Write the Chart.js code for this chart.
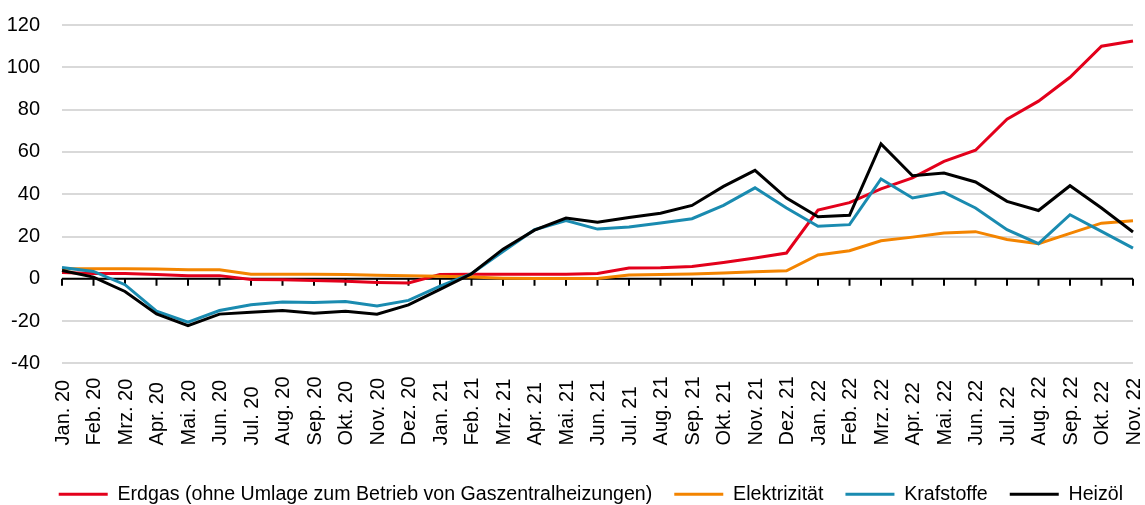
<!DOCTYPE html>
<html lang="de">
<head>
<meta charset="utf-8">
<title>Energiepreise – Veränderung gegenüber Vorjahresmonat</title>
<script src="https://cdn.jsdelivr.net/npm/chart.js@4.4.0/dist/chart.umd.min.js"></script>
<style>
    html, body { margin: 0; padding: 0; background: #fff; }
</style>
</head>
<body>
<canvas id="grafik" width="1145" height="505"></canvas>
<script>
// ==================== DATEN ====================
// Monate Jan. 20 bis Nov. 22
const monate = [
    'Jan. 20', 'Feb. 20', 'Mrz. 20', 'Apr. 20', 'Mai. 20', 'Jun. 20',
    'Jul. 20', 'Aug. 20', 'Sep. 20', 'Okt. 20', 'Nov. 20', 'Dez. 20',
    'Jan. 21', 'Feb. 21', 'Mrz. 21', 'Apr. 21', 'Mai. 21', 'Jun. 21',
    'Jul. 21', 'Aug. 21', 'Sep. 21', 'Okt. 21', 'Nov. 21', 'Dez. 21',
    'Jan. 22', 'Feb. 22', 'Mrz. 22', 'Apr. 22', 'Mai. 22', 'Jun. 22',
    'Jul. 22', 'Aug. 22', 'Sep. 22', 'Okt. 22', 'Nov. 22'
];

// Werte in %
const erdgas = [
    3, 2.5, 2.5, 2, 1.5, 1.5, -0.3, -0.5, -0.8, -1.2, -1.7, -2,
    2, 2.2, 2.2, 2.2, 2.2, 2.5, 5.1, 5.2, 5.8, 7.7, 9.8, 12.2,
    32.5, 36, 42.5, 47.7, 55.5, 60.8, 75.5, 84, 95.3, 110, 112.4
];
const elektrizitaet = [
    4.7, 4.7, 4.7, 4.6, 4.3, 4.3, 2.2, 2.2, 2.1, 2, 1.7, 1.4,
    1.2, 0.8, 0.3, 0.1, 0.1, 0.2, 1.8, 2, 2.3, 2.7, 3.3, 3.8,
    11.3, 13.3, 18, 19.7, 21.6, 22.3, 18.6, 16.6, 21.5, 26.3, 27.4
];
const kraftstoffe = [
    5.3, 3.5, -2.8, -15.3, -20.5, -15, -12.3, -11, -11.2, -10.7, -12.8, -10.2,
    -3.5, 2.4, 12.9, 23.2, 27.5, 23.5, 24.5, 26.4, 28.4, 34.7, 43, 33.5,
    24.8, 25.6, 47.2, 38.2, 40.9, 33.5, 23.2, 16.6, 30.3, 22.4, 14.5
];
const heizoel = [
    3.9, 0.8, -6, -16.6, -22.1, -16.7, -15.8, -15, -16.3, -15.3, -16.7, -12.3,
    -5, 2.4, 14, 23, 28.7, 26.7, 29, 31, 34.7, 43.7, 51.3, 38.2,
    29.3, 30, 63.8, 48.7, 50, 45.8, 36.6, 32.3, 44, 33.5, 22.1
];

// Achse
const yMin = -40;
const yMax = 120;
const ySchritt = 20;

// Farben
const farben = {
    erdgas: '#e3001b',
    elektrizitaet: '#f38400',
    kraftstoffe: '#1a8bb0',
    heizoel: '#000000'
};

Chart.defaults.font.family = "'Liberation Sans', Arial, sans-serif";
Chart.defaults.color = '#000';

// Nulllinie mit Teilstrichen (liegt unter den Linien)
const nullLinie = {
    id: 'nullLinie',
    beforeDatasetsDraw(chart) {
        const { ctx, chartArea, scales } = chart;
        const y0 = scales.y.getPixelForValue(0);
        ctx.save();
        ctx.strokeStyle = '#000';
        ctx.lineWidth = 2;
        ctx.beginPath();
        ctx.moveTo(chartArea.left, y0);
        ctx.lineTo(chartArea.right, y0);
        scales.x.ticks.forEach((t, i) => {
            const x = scales.x.getPixelForTick(i);
            ctx.moveTo(x, y0);
            ctx.lineTo(x, y0 + 7);
        });
        ctx.stroke();
        ctx.restore();
    }
};

// Monatsbeschriftung senkrecht, unten bündig
const monatsText = {
    id: 'monatsText',
    afterDraw(chart) {
        const { ctx, scales } = chart;
        const xs = scales.x;
        ctx.save();
        ctx.font = "20px 'Liberation Sans', Arial, sans-serif";
        ctx.fillStyle = '#000';
        ctx.textAlign = 'left';
        ctx.textBaseline = 'middle';
        xs.ticks.forEach((t, i) => {
            ctx.save();
            ctx.translate(xs.getPixelForTick(i), xs.top + 82);
            ctx.rotate(-Math.PI / 2);
            ctx.fillText(monate[i], 0, 1);
            ctx.restore();
        });
        ctx.restore();
    }
};

function linie(label, werte, farbe, reihenfolge) {
    return {
        label: label,
        data: werte,
        borderColor: farbe,
        backgroundColor: farbe,
        borderWidth: 3,
        pointRadius: 0,
        tension: 0,
        order: reihenfolge
    };
}

new Chart(document.getElementById('grafik'), {
    type: 'line',
    data: {
        labels: monate,
        datasets: [
            linie('Erdgas (ohne Umlage zum Betrieb von Gaszentralheizungen)', erdgas, farben.erdgas, 3),
            linie('Elektrizität', elektrizitaet, farben.elektrizitaet, 2),
            linie('Krafstoffe', kraftstoffe, farben.kraftstoffe, 1),
            linie('Heizöl', heizoel, farben.heizoel, 0)
        ]
    },
    options: {
        responsive: false,
        animation: false,
        layout: {
            padding: { top: 25, left: 0, right: 0, bottom: -9 }
        },
        scales: {
            x: {
                grid: { display: false },
                border: { display: false },
                ticks: { display: false, autoSkip: false },
                afterFit(scale) { scale.height = 99; }
            },
            y: {
                min: yMin,
                max: yMax,
                ticks: {
                    stepSize: ySchritt,
                    padding: 0,
                    font: { size: 20 },
                    color: '#000'
                },
                grid: {
                    color: '#d9d9d9',
                    lineWidth: 2,
                    drawTicks: true,
                    tickLength: 22,
                    tickColor: 'rgba(0,0,0,0)'
                },
                border: { display: false },
                afterFit(scale) { scale.width = 62; }
            },
            // unsichtbare Achse rechts, nur als Abstand (Legende bleibt breit)
            platz: {
                type: 'linear',
                position: 'right',
                display: false,
                afterFit(scale) { scale.width = 12; }
            }
        },
        plugins: {
            tooltip: { enabled: false },
            legend: {
                position: 'bottom',
                align: 'end',
                labels: {
                    font: { size: 19.6 },
                    color: '#000',
                    boxWidth: 49,
                    boxHeight: 3,
                    padding: 22,
                    sort: (a, b) => a.datasetIndex - b.datasetIndex,
                    generateLabels(chart) {
                        const items = Chart.defaults.plugins.legend.labels.generateLabels(chart);
                        items.forEach(it => { it.lineWidth = 0; });
                        return items;
                    }
                }
            }
        }
    },
    plugins: [nullLinie, monatsText]
});
</script>
</body>
</html>
